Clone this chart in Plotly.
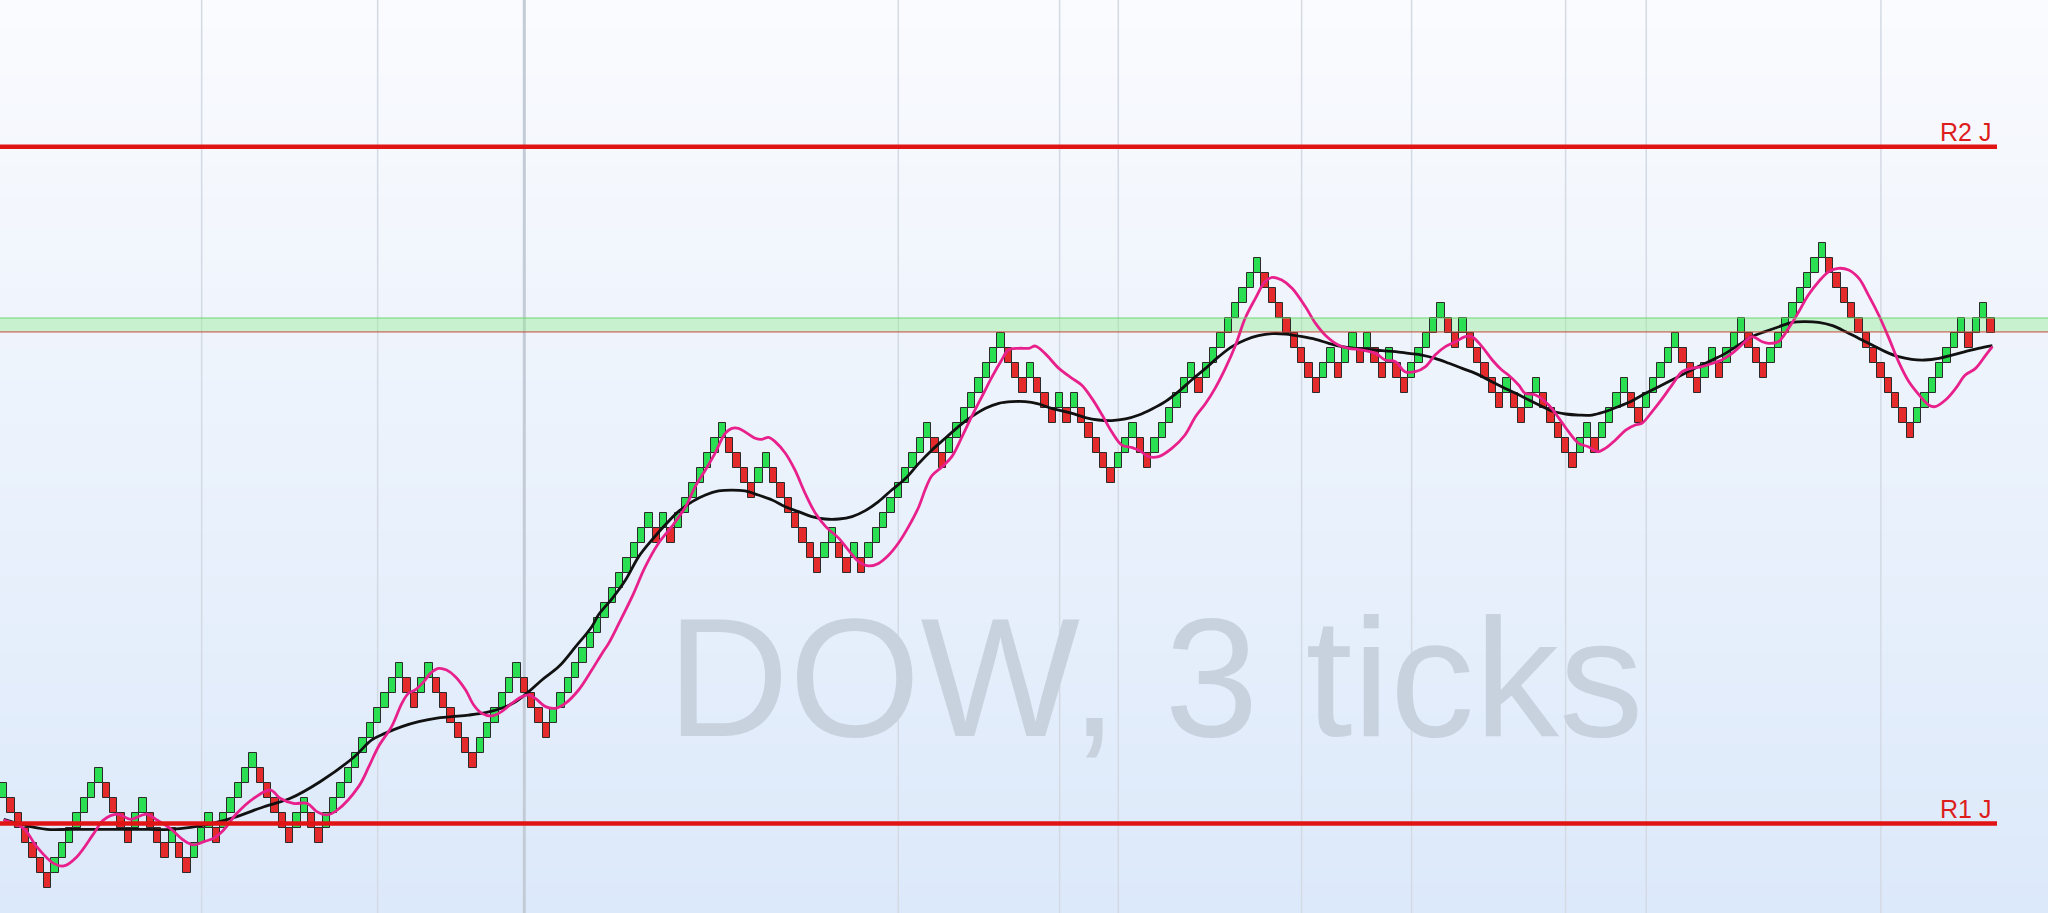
import plotly.graph_objects as go

# ---------------- data ----------------
# Renko brick close levels (in brick units, 1 brick = 3 ticks), one per column
brick_close = [
    3, 1, 0, -1, -2, -3, -4, -2, -1, 0,
    1, 2, 3, 4, 2, 1, 0, -1, 1, 2,
    0, -1, -2, 0, -2, -3, -1, 0, 1, -1,
    1, 2, 3, 4, 5, 3, 2, 1, 0, -1,
    1, 2, 0, -1, 1, 2, 3, 4, 5, 6,
    7, 8, 9, 10, 11, 9, 8, 10, 11, 9,
    8, 7, 6, 5, 4, 6, 7, 8, 9, 10,
    11, 9, 8, 7, 6, 8, 9, 10, 11, 12,
    13, 14, 15, 16, 17, 18, 19, 20, 21, 19,
    21, 19, 21, 22, 23, 24, 25, 26, 27, 25,
    24, 23, 22, 24, 25, 23, 22, 21, 20, 19,
    18, 17, 19, 20, 18, 17, 19, 17, 19, 20,
    21, 22, 23, 24, 25, 26, 27, 25, 24, 26,
    27, 28, 29, 30, 31, 32, 33, 31, 30, 29,
    31, 29, 28, 27, 29, 27, 29, 27, 26, 25,
    24, 23, 25, 26, 27, 25, 24, 26, 27, 28,
    29, 30, 31, 29, 31, 32, 33, 34, 35, 36,
    37, 38, 36, 35, 34, 33, 32, 31, 30, 29,
    31, 32, 30, 32, 33, 31, 33, 31, 30, 32,
    30, 29, 31, 32, 33, 34, 35, 33, 32, 34,
    32, 31, 30, 29, 28, 30, 28, 27, 29, 30,
    28, 27, 26, 25, 24, 26, 27, 25, 27, 28,
    29, 30, 28, 27, 29, 30, 31, 32, 33, 31,
    30, 29, 31, 32, 30, 32, 33, 34, 32, 31,
    30, 32, 33, 34, 35, 36, 37, 38, 39, 37,
    36, 35, 34, 33, 32, 31, 30, 29, 28, 27,
    26, 28, 29, 30, 31, 32, 33, 34, 32, 34,
    35, 33,
]
first_brick_up = True

# Fast moving average (magenta), sampled points (brick index, level)
fast_ma_x = [0, 2.7, 4.5, 6.8, 8.2, 10, 12.3, 13.6, 15.5, 17.3, 19.5, 20.9, 22.7, 24.5, 25.9,
             27.3, 28.6, 30, 31.8, 34.1, 36.4, 37.7, 39.5, 41.4, 42.7, 44.1, 45.5,
             48.4, 49.8, 51.1, 52.9, 54.3, 55.2, 56.1, 57.3, 58.2, 59.3, 60.4, 61.6, 63.0,
             64.1, 65.2, 66.6, 67.9, 69.3, 70.7, 71.6, 72.5, 73.9, 75.2, 76.6, 78.4, 80.2,
             81.6, 82.5, 83.9, 85.7, 87.5, 89.3, 91.1, 93.0, 94.3, 95.7, 97.0, 98.4, 99.3,
             100.2, 101.4, 102.5, 103.4, 104.3, 105.2, 106.6, 107.9, 109.3, 110.7, 112.1,
             113.9, 115.2, 116.6, 118.0, 119.3, 120.7, 122.0, 123.4, 124.8, 125.7, 126.6,
             128.0, 129.3, 130.7, 132.0, 133.4, 134.8, 136.1, 137.0, 138.4, 139.8, 140.7,
             142.0, 143.9, 145.7, 147.0, 148.4, 149.8, 151.1, 152.5, 153.9, 155.0, 156.1,
             157.5, 159.3, 161.1, 162.5, 163.9, 165.2, 166.6, 168.0, 169.3, 170.7, 172.0,
             173.0, 174.3, 175.7, 177.5, 178.9, 180.2, 182.0, 183.4, 185.2, 187.1, 188.4,
             189.8, 191.1, 192.5, 193.9, 195.2, 196.6, 198.0, 199.3, 200.2, 201.6, 203.0,
             204.3, 205.2, 206.6, 207.5, 208.9, 210.7, 212.1, 213.4, 214.8, 216.1, 217.3,
             218.4, 219.8, 221.2, 222.5, 223.4, 224.8, 226.2, 227.5, 228.9, 230.2, 231.6,
             233.0, 234.3, 235.7, 237.0, 238.4, 239.8, 240.7, 242.0, 243.4, 244.8, 246.1,
             247.5, 248.9, 250.2, 251.6, 253.0, 254.3, 255.7, 257.1, 258.4, 259.8, 261.2,
             262.5, 263.4, 264.8, 266.2, 267.5, 268.9, 270.3, 271.2]
fast_ma_y = [0.53, -0.02, -1.24, -2.36, -2.53, -1.91, -0.36, 0.53, 0.93, 0.58, 0.93, 0.53, -0.02,
             -0.8, -1.13, -0.91, -0.69, -0.13, 0.98, 1.98, 2.53, 1.98, 1.64, 1.64, 1.09, 0.87,
             1.2, 2.76, 4.09, 5.42, 6.76, 8.31, 8.98, 9.2, 9.76, 10.31, 10.64, 10.53, 10.09,
             9.2, 8.2, 7.64, 7.47, 7.76, 8.31, 8.76, 8.87, 8.64, 8.09, 7.98, 8.31, 9.2, 10.53,
             11.64, 12.31, 13.64, 15.42, 17.42, 18.98, 20.09, 21.42, 22.76, 23.87, 24.98,
             26.31, 26.64, 26.64, 26.31, 25.98, 25.91, 26.04, 25.76, 24.98, 23.87, 22.31,
             20.98, 20.09, 19.31, 18.53, 17.76, 17.47, 17.64, 18.2, 18.98, 20.09, 21.42,
             22.6, 23.5, 24.09, 24.76, 26.09, 27.42, 28.76, 30.09, 31.2, 31.87, 31.98,
             31.98, 32.13, 31.64, 30.64, 29.98, 29.53, 28.64, 27.53, 26.42, 25.53, 25.36,
             25.13, 24.76, 24.76, 25.31, 26.2, 27.4, 28.3, 29.31, 30.64, 32.2, 33.98, 35.31,
             36.42, 36.71, 36.53, 35.98, 34.76, 33.64, 32.87, 32.2, 31.98, 31.87, 31.64,
             31.2, 31.09, 30.42, 30.42, 30.76, 31.53, 32.09, 32.42, 32.76, 32.76, 32.09,
             31.2, 30.53, 30.2, 29.53, 28.98, 28.87, 28.2, 27.31, 26.42, 25.64, 25.42, 25.09,
             25.31, 25.87, 26.53, 26.87, 26.98, 27.76, 28.64, 29.53, 30.42, 30.64, 30.76,
             30.98, 31.2, 31.64, 32.2, 32.76, 32.42, 32.31, 32.42, 33.31, 34.42, 35.53,
             36.42, 37.09, 37.31, 37.2, 36.64, 35.53, 34.2, 32.64, 31.09, 29.76, 28.87,
             28.2, 28.09, 28.53, 29.31, 30.2, 30.64, 31.53, 32.09]

# Slow moving average (black)
slow_ma_x = [0, 2.7, 5.9, 9.1, 13.6, 18.2, 22.7, 25.5, 28.2, 31.8, 35.5, 39.1, 43.2, 47.7,
             50.2, 52.0, 54.3, 56.6, 58.9, 61.1, 63.4, 65.7, 67.9, 69.8, 71.6, 73.4, 75.7,
             78.0, 80.2, 81.1, 83.0, 84.8, 86.6, 88.4, 90.2, 92.0, 93.9, 95.7, 97.5, 99.3,
             101.1, 102.9, 104.8, 106.6, 108.4, 110.2, 112.0, 113.9, 115.7, 117.5, 119.3,
             121.1, 123.0, 124.8, 126.6, 128.4, 130.2, 132.0, 133.9, 135.7, 137.5, 139.3,
             141.1, 142.9, 145.7, 147.5, 149.3, 151.1, 153.0, 154.8, 156.6, 158.4, 160.2,
             162.0, 163.9, 165.7, 167.5, 169.3, 171.1, 173.0, 174.8, 177.1, 178.9, 180.7,
             182.5, 184.3, 186.1, 188.0, 189.8, 191.6, 193.4, 195.2, 197.1, 198.9, 200.7,
             202.5, 204.3, 206.2, 208.0, 210.0, 211.1, 213.0, 214.8, 216.6, 218.4, 220.2,
             222.1, 223.9, 225.7, 227.5, 229.3, 231.1, 233.0, 234.8, 236.6, 238.4, 240.2,
             242.0, 243.9, 245.7, 247.5, 249.4, 251.2, 253.0, 254.8, 256.6, 258.4, 260.2,
             262.0, 263.9, 265.7, 267.5, 269.3, 271.2]
slow_ma_y = [0.58, 0.2, -0.09, -0.09, -0.09, -0.09, -0.09, 0.04, 0.27, 0.76, 1.42, 1.98, 3.1,
             4.7, 5.87, 6.31, 6.76, 7.09, 7.31, 7.42, 7.53, 7.69, 7.98, 8.42, 9.09, 9.87,
             10.76, 12.09, 13.42, 14.2, 15.31, 16.53, 18.09, 19.2, 20.2, 21.09, 21.76, 22.2,
             22.47, 22.53, 22.47, 22.2, 21.87, 21.42, 21.09, 20.76, 20.6, 20.6, 20.76, 21.16,
             21.76, 22.53, 23.31, 24.31, 25.2, 25.98, 26.76, 27.42, 27.98, 28.31, 28.42,
             28.42, 28.27, 27.98, 27.64, 27.36, 27.2, 27.16, 27.27, 27.53, 27.93, 28.42,
             29.09, 29.87, 30.64, 31.42, 32.09, 32.53, 32.82, 32.96, 32.93, 32.76, 32.58,
             32.31, 32.09, 31.98, 31.91, 31.82, 31.76, 31.64, 31.53, 31.31, 30.98, 30.64,
             30.31, 29.87, 29.42, 28.98, 28.53, 28.05, 27.8, 27.6, 27.53, 27.53, 27.76,
             28.09, 28.49, 28.98, 29.42, 29.87, 30.31, 30.76, 31.2, 31.64, 32.2, 32.76,
             33.09, 33.4, 33.71, 33.76, 33.71, 33.49, 33.09, 32.64, 32.2, 31.76, 31.42,
             31.24, 31.2, 31.31, 31.53, 31.76, 31.98, 32.16]

separator_bricks = [27, 51, 71, 122, 144, 152, 177, 192, 213, 224, 256]
major_separator = 71
r1_level = 0.3
r2_level = 45.42
zone_low = 33.07
zone_high = 34.0
watermark = "DOW, 3 ticks"
r1_label = "R1 J"
r2_label = "R2 J"

# ---------------- derived brick geometry ----------------
n = len(brick_close)
opens, colors = [], []
for i, c in enumerate(brick_close):
    up = first_brick_up if i == 0 else c > brick_close[i - 1]
    opens.append(c - 1 if up else c + 1)
    colors.append("#2ae052" if up else "#e42a2a")
lows = [min(o, c) for o, c in zip(opens, brick_close)]
heights = [abs(c - o) for o, c in zip(opens, brick_close)]
idx = list(range(n))

W, H = 2048, 913
px_per_brick = 7.333
x_lo = -0.5
x_hi = x_lo + W / px_per_brick
y_lo = (828 - H) / 15.0
y_hi = 828 / 15.0

fig = go.Figure()
fig.add_trace(go.Bar(x=idx, y=heights, base=lows, width=1.0,
                     marker=dict(color=colors, line=dict(color="#2b2b2b", width=1)),
                     hoverinfo="skip", showlegend=False))
fig.add_trace(go.Scatter(x=slow_ma_x, y=slow_ma_y, mode="lines",
                         line=dict(color="#111111", width=2.8, shape="spline", smoothing=1.0),
                         hoverinfo="skip", showlegend=False))
fig.add_trace(go.Scatter(x=fast_ma_x, y=fast_ma_y, mode="lines",
                         line=dict(color="#e8208c", width=2.8, shape="spline", smoothing=1.0),
                         hoverinfo="skip", showlegend=False))

shapes = []
# background vertical gradient
top = (250, 251, 254)
bot = (220, 233, 250)
steps = 60
for s in range(steps):
    t = (s + 0.5) / steps
    col = tuple(round(top[j] + (bot[j] - top[j]) * t) for j in range(3))
    shapes.append(dict(type="rect", xref="paper", yref="paper", x0=0, x1=1,
                       y0=1 - (s + 1) / steps, y1=1 - s / steps + 0.001,
                       fillcolor="rgb(%d,%d,%d)" % col, line=dict(width=0), layer="below"))
# session separators
for b in separator_bricks:
    major = b == major_separator
    shapes.append(dict(type="line", xref="x", yref="paper", x0=b, x1=b, y0=0, y1=1,
                       line=dict(color="#c3cbd6" if major else "#d4dae4", width=3 if major else 1.5),
                       layer="below"))
# zone band
shapes.append(dict(type="rect", xref="paper", yref="y", x0=0, x1=1, y0=zone_low, y1=zone_high,
                   fillcolor="rgba(150,238,150,0.45)", line=dict(width=0), layer="below"))
shapes.append(dict(type="line", xref="paper", yref="y", x0=0, x1=1, y0=zone_high, y1=zone_high,
                   line=dict(color="#6fd66f", width=1), layer="above"))
shapes.append(dict(type="line", xref="paper", yref="y", x0=0, x1=1, y0=zone_low, y1=zone_low,
                   line=dict(color="#c9463c", width=1), layer="above"))
# R lines
line_end = (1997 / px_per_brick) + x_lo
for lvl in (r1_level, r2_level):
    shapes.append(dict(type="line", xref="x", yref="y", x0=x_lo, x1=line_end, y0=lvl, y1=lvl,
                       line=dict(color="#e01414", width=4.5), layer="above"))

label_x = (1992 / px_per_brick) + x_lo
annotations = [
    dict(text=watermark, xref="paper", yref="paper", x=1155 / W, y=1 - 677 / H,
         xanchor="center", yanchor="middle", showarrow=False,
         font=dict(family="Liberation Sans, Arial", size=169, color="#c8d2df")),
    dict(text=r2_label, xref="x", yref="y", x=label_x, y=r2_level, xanchor="right",
         yanchor="bottom", showarrow=False, borderpad=0,
         font=dict(family="Liberation Sans, Arial", size=25, color="#dd1c1c")),
    dict(text=r1_label, xref="x", yref="y", x=label_x, y=r1_level, xanchor="right",
         yanchor="bottom", showarrow=False, borderpad=0,
         font=dict(family="Liberation Sans, Arial", size=25, color="#dd1c1c")),
]

fig.update_layout(
    width=W, height=H, margin=dict(l=0, r=0, t=0, b=0),
    paper_bgcolor="#f4f7fc", plot_bgcolor="#f4f7fc",
    bargap=0, showlegend=False, shapes=shapes, annotations=annotations,
    xaxis=dict(range=[x_lo, x_hi], visible=False, fixedrange=True),
    yaxis=dict(range=[y_lo, y_hi], visible=False, fixedrange=True),
)

fig.write_html("out.html", config={"displayModeBar": False},
               post_script="document.body.style.margin='0px';")
